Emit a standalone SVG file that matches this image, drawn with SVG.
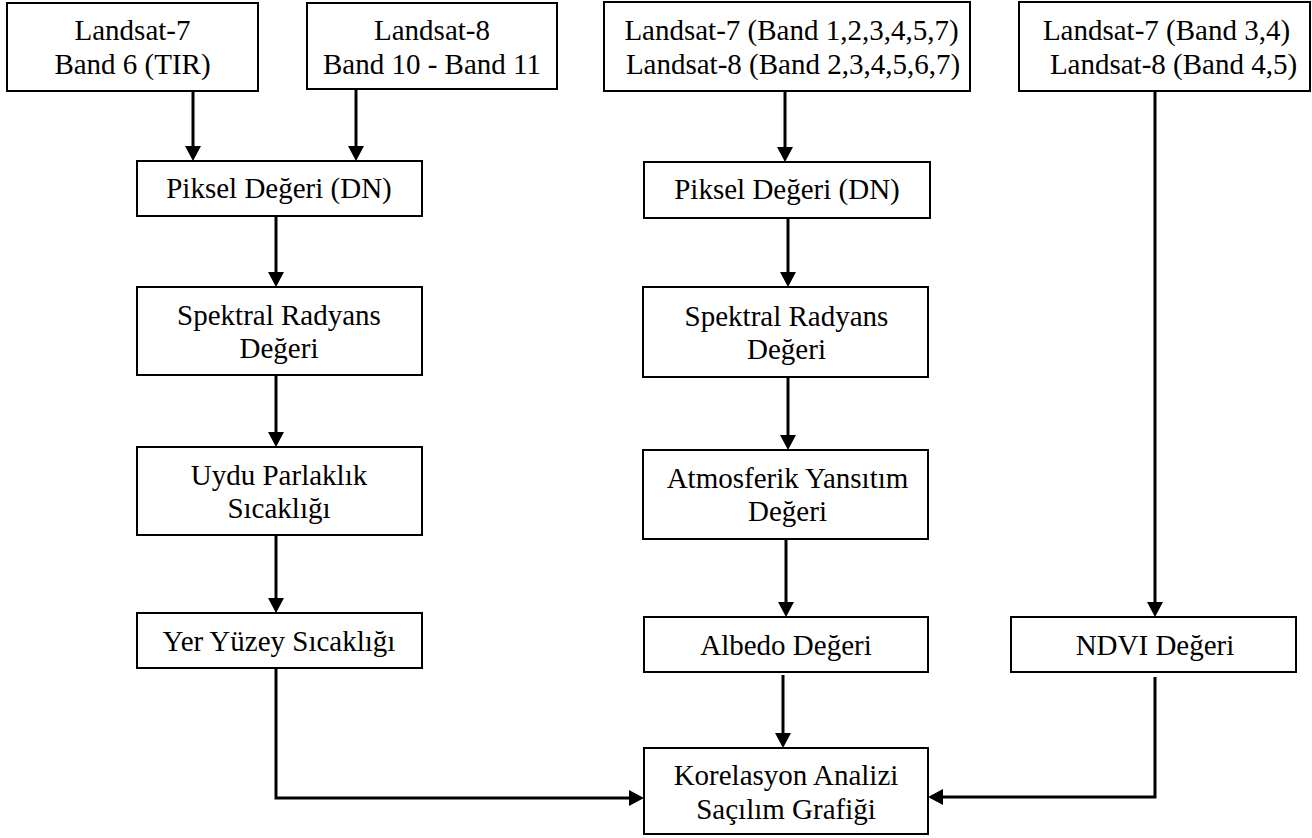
<svg xmlns="http://www.w3.org/2000/svg" width="1312" height="838" viewBox="0 0 1312 838">
<defs>
<marker id="ah" markerUnits="userSpaceOnUse" markerWidth="16" markerHeight="16" refX="10" refY="8" orient="auto">
<path d="M0,0 L15,8 L0,16 Z" fill="#000"/>
</marker>
<style>
rect{fill:#fff;stroke:#000;stroke-width:2}
text{font-family:"Liberation Serif","Times New Roman",serif;font-size:29px;fill:#000;text-anchor:middle}
#connectors path{fill:none;stroke:#000;stroke-width:3;marker-end:url(#ah)}
</style>
</defs>
<rect x="0" y="0" width="1312" height="838" style="fill:#fff;stroke:none"/>
<g id="connectors">
<path d="M193,91 V156"/>
<path d="M356,89 V156"/>
<path d="M276,216 V282"/>
<path d="M276,375 V442"/>
<path d="M276,535 V608"/>
<path d="M276,668 V798 H639"/>
<path d="M785,91 V157"/>
<path d="M788,218 V282"/>
<path d="M788,377 V445"/>
<path d="M786,539 V612"/>
<path d="M783,675 V743"/>
<path d="M1155,91 V612"/>
<path d="M1155,677 V797 H933"/>
</g>
<g id="n-l7tir"><rect x="7" y="3" width="251" height="88"/><text x="132.5" y="40">Landsat-7</text><text x="132.5" y="74">Band 6 (TIR)</text></g>
<g id="n-l8tir"><rect x="307" y="3" width="250" height="86"/><text x="432" y="40">Landsat-8</text><text x="432" y="74">Band 10 - Band 11</text></g>
<g id="n-bands"><rect x="604" y="2" width="366" height="89"/><text x="791.5" y="40">Landsat-7 (Band 1,2,3,4,5,7)</text><text x="793" y="74">Landsat-8 (Band 2,3,4,5,6,7)</text></g>
<g id="n-ndvibands"><rect x="1019" y="2" width="291" height="89"/><text x="1166.5" y="40">Landsat-7 (Band 3,4)</text><text x="1173.5" y="74">Landsat-8 (Band 4,5)</text></g>
<g id="n-dn1"><rect x="137" y="161" width="285" height="55"/><text x="279" y="198">Piksel Değeri (DN)</text></g>
<g id="n-rad1"><rect x="137" y="287" width="285" height="88"/><text x="279" y="325">Spektral Radyans</text><text x="279" y="358">Değeri</text></g>
<g id="n-bt"><rect x="137" y="447" width="285" height="88"/><text x="279" y="485">Uydu Parlaklık</text><text x="279" y="518">Sıcaklığı</text></g>
<g id="n-lst"><rect x="137" y="613" width="285" height="55"/><text x="279" y="651">Yer Yüzey Sıcaklığı</text></g>
<g id="n-dn2"><rect x="644" y="162" width="286" height="56"/><text x="787" y="199">Piksel Değeri (DN)</text></g>
<g id="n-rad2"><rect x="643" y="287" width="285" height="90"/><text x="786.5" y="326">Spektral Radyans</text><text x="786.5" y="359">Değeri</text></g>
<g id="n-refl"><rect x="643" y="450" width="285" height="89"/><text x="787.5" y="488">Atmosferik Yansıtım</text><text x="787.5" y="521">Değeri</text></g>
<g id="n-albedo"><rect x="644" y="617" width="284" height="55"/><text x="786" y="655">Albedo Değeri</text></g>
<g id="n-ndvi"><rect x="1011" y="617" width="285" height="55"/><text x="1155" y="655">NDVI Değeri</text></g>
<g id="n-corr"><rect x="644" y="748" width="284" height="86"/><text x="786" y="785">Korelasyon Analizi</text><text x="786" y="819">Saçılım Grafiği</text></g>
</svg>
